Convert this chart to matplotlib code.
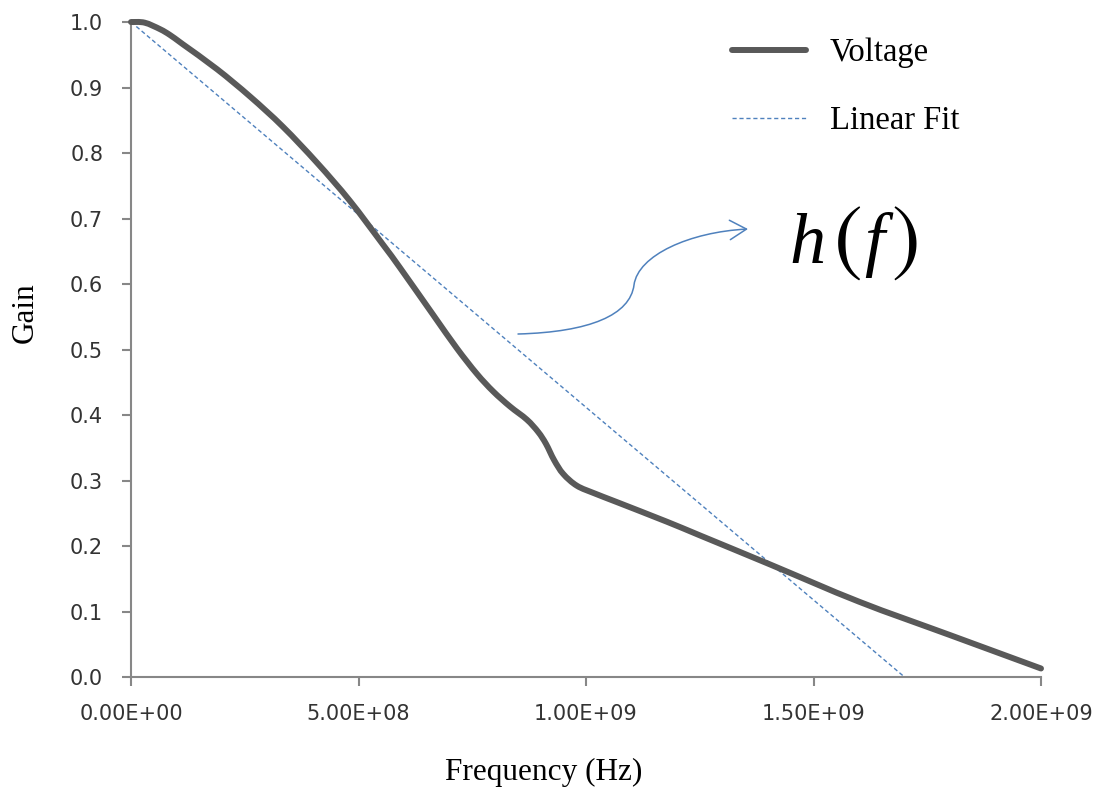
import numpy as np
import matplotlib.pyplot as plt
from matplotlib.path import Path
from matplotlib.patches import FancyArrowPatch, PathPatch

freq = [0, 0.030e9, 0.064e9, 0.086e9, 0.114e9, 0.189e9, 0.262e9, 0.334e9,
        0.409e9, 0.481e9, 0.554e9, 0.591e9, 0.664e9, 0.716e9, 0.760e9,
        0.796e9, 0.833e9, 0.870e9, 0.895e9, 0.912e9, 0.930e9, 0.950e9,
        0.980e9, 1.020e9, 1.068e9, 1.178e9, 1.251e9, 1.404e9, 1.600e9,
        1.800e9, 2.000e9]
gain = [1.0, 0.999, 0.989, 0.980, 0.966, 0.928, 0.886, 0.840,
        0.785, 0.727, 0.660, 0.625, 0.553, 0.502, 0.463,
        0.436, 0.413, 0.393, 0.374, 0.356, 0.331, 0.310,
        0.292, 0.280, 0.267, 0.237, 0.216, 0.172, 0.115,
        0.064, 0.013]

# linear fit end points
fit_freq = [0, 1.70e9]
fit_gain = [1.0, 0.0]

x_ticks = [0, 5e8, 1e9, 1.5e9, 2e9]
y_ticks = [0.0, 0.1, 0.2, 0.3, 0.4, 0.5, 0.6, 0.7, 0.8, 0.9, 1.0]

fig = plt.figure(figsize=(11.01, 7.92), dpi=100)
ax = fig.add_axes([0.119, 0.1452, 0.8265, 0.827])


# smoothed line like excel: catmull-rom segments turned into bezier curves
def smooth_path(xs, ys):
    p = np.column_stack([xs, ys]).astype(float)
    n = len(p)
    verts = [p[0]]
    codes = [Path.MOVETO]
    for i in range(n - 1):
        p_prev = p[max(i - 1, 0)]
        p_next2 = p[min(i + 2, n - 1)]
        c1 = p[i] + (p[i + 1] - p_prev) / 6.0
        c2 = p[i + 1] - (p_next2 - p[i]) / 6.0
        verts += [c1, c2, p[i + 1]]
        codes += [Path.CURVE4] * 3
    return Path(verts, codes)


volt_color = '#595959'
fit_color = '#4F81BD'

ax.add_patch(PathPatch(smooth_path(freq, gain), fill=False, edgecolor=volt_color,
                       lw=4.3, capstyle='round', joinstyle='round',
                       clip_on=False, zorder=3))
volt_handle, = ax.plot([], [], color=volt_color, lw=4.3, solid_capstyle='round',
                       label='Voltage')
ax.plot(fit_freq, fit_gain, color=fit_color, lw=1.0, dashes=(3, 2),
        label='Linear Fit', zorder=2)

ax.set_xlim(0, 2e9)
ax.set_ylim(0, 1.0)
ax.set_xticks(x_ticks)
ax.set_xticklabels(['%.2E' % v for v in x_ticks])
ax.set_yticks(y_ticks)
ax.set_yticklabels(['%.1f' % v for v in y_ticks])

for side in ['top', 'right']:
    ax.spines[side].set_visible(False)
for side in ['left', 'bottom']:
    ax.spines[side].set_color('#878787')
    ax.spines[side].set_linewidth(1.5)

ax.tick_params(axis='x', direction='out', length=6.5, width=1.5, color='#878787',
               pad=13, labelsize=15, labelcolor='#333333')
ax.tick_params(axis='y', direction='out', length=6.5, width=1.5, color='#878787',
               pad=13.5, labelsize=15, labelcolor='#333333')

ax.set_xlabel('Frequency (Hz)', family='Liberation Serif', fontsize=22.5, va='center')
ax.xaxis.set_label_coords(0.453, -0.145)
ax.set_ylabel('Gain', family='Liberation Serif', fontsize=22.5, va='center')
ax.yaxis.set_label_coords(-0.1165, 0.556)

leg = ax.legend(loc='upper left', bbox_to_anchor=(0.660, 0.976), frameon=False,
                prop={'family': 'Liberation Serif', 'size': 23.5},
                handlelength=2.27, handletextpad=0.74, labelspacing=1.15,
                borderpad=0, borderaxespad=0)


# h(f) annotation, pieces placed in pixel positions of the original
def px(x, y):
    return (x - 131) / 910.0, (677 - y) / 655.0


ax.text(*px(789, 263), 'h', transform=ax.transAxes, fontsize=52,
        family='Liberation Serif', style='italic', ha='left', va='baseline')
ax.text(*px(834, 266), '(', transform=ax.transAxes, fontsize=62,
        family='STIXGeneral', ha='left', va='baseline')
ax.text(*px(864, 263), 'f', transform=ax.transAxes, fontsize=52,
        family='Liberation Serif', style='italic', ha='left', va='baseline')
ax.text(*px(892, 266), ')', transform=ax.transAxes, fontsize=62,
        family='STIXGeneral', ha='left', va='baseline')

pts = [(518, 334), (590, 332), (630, 315), (634, 285),
       (638, 255), (690, 232), (748, 229)]
verts = [px(x, y) for x, y in pts]
codes = [Path.MOVETO, Path.CURVE4, Path.CURVE4, Path.CURVE4,
         Path.CURVE4, Path.CURVE4, Path.CURVE4]
arrow = FancyArrowPatch(path=Path(verts, codes), transform=ax.transAxes,
                        arrowstyle='->,head_length=0.6,head_width=0.35',
                        mutation_scale=20, color=fit_color, lw=1.1)
ax.add_patch(arrow)

fig.savefig('out.png', dpi=100)
